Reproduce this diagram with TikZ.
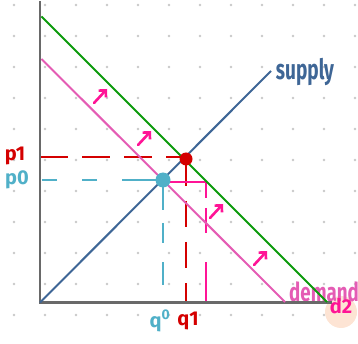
\documentclass[tikz,border=0pt]{standalone}
\usepackage{fontspec}
\setmainfont{Fira Sans}
\usetikzlibrary{arrows.meta}
\definecolor{axisgray}{RGB}{105,105,105}
\definecolor{supplyblue}{RGB}{62,102,150}
\definecolor{dgreen}{RGB}{12,155,12}
\definecolor{dpink}{RGB}{228,92,180}
\definecolor{mag}{RGB}{255,20,150}
\definecolor{dred}{RGB}{212,0,0}
\definecolor{tealb}{RGB}{80,176,200}
\definecolor{dotgray}{RGB}{200,200,200}
\definecolor{peach}{RGB}{253,228,212}
\begin{document}
\begin{tikzpicture}[x=1pt,y=-1pt,
  axisline/.style={draw=axisgray,line width=2.6pt},
  curve/.style={line width=2pt},
  guide/.style={line width=2pt},
  shiftarrow/.style={draw=mag,line width=2.6pt,line cap=round,-{Straight Barb[length=5pt,width=10pt]}},
  lbl/.style={inner sep=0pt,font=\fontsize{20}{20}\selectfont\bfseries},
  eqdot/.style={circle,inner sep=0pt,minimum size=#1},
]
\useasboundingbox (0,0) rectangle (358,344);
% dot grid
\foreach \i in {0,...,11}{\foreach \j in {0,...,10}{\fill[dotgray] ({14+31*\i},{5+31*\j}) circle (1.4pt);}}
% key points
\coordinate (Otop) at (40,1.5);
\coordinate (O) at (40,302.5);
\coordinate (Xend) at (332,302.5);
\coordinate (S0) at (40,302.5);
\coordinate (S1) at (271,71);
\coordinate (G0) at (41.5,16.5);
\coordinate (G1) at (327,302);
\coordinate (D0) at (41.5,59);
\coordinate (D1) at (285,302);
\coordinate (P1ax) at (40,157);
\coordinate (P1e) at (185,157);
\coordinate (Q1top) at (186,160);
\coordinate (Q1ax) at (186,302);
\coordinate (P0ax) at (40,180);
\coordinate (P0e) at (163,180);
\coordinate (Q0ax) at (163,302);
\coordinate (M0) at (165,182);
\coordinate (M1) at (206,182);
\coordinate (M2) at (206,302);
% labels behind lines
\node[circle,fill=peach,minimum size=32pt,inner sep=0pt] (d2bg) at (341,312) {};
\node[text=dpink,inner sep=0pt,anchor=base west] (dem) at (289,301) {\scalebox{0.72}[1]{\fontsize{26}{26}\selectfont\bfseries demand}};
% guide lines
\draw[guide,dred,dash pattern=on 28pt off 14pt] (P1ax) -- (P1e);
\draw[guide,dred,dash pattern=on 26pt off 15pt] (Q1top) -- (Q1ax);
\draw[guide,tealb,dash pattern=on 41pt off 25pt on 15pt off 25pt on 15pt off 25pt] (P0e) -- (P0ax);
\draw[guide,tealb,dash pattern=on 30pt off 13pt on 20pt off 19pt on 23pt off 50pt] (P0e) -- (Q0ax);
\draw[guide,mag] (M0) -- (M1);
\draw[guide,mag,dash pattern=on 16pt off 10pt on 25pt off 29pt on 45pt off 10pt] (M1) -- (M2);
% axes
\draw[axisline] (Otop) -- (O) -- (Xend);
% curves
\draw[curve,dpink] (D0) -- (D1);
\draw[curve,dgreen] (G0) -- (G1);
\draw[curve,supplyblue] (S0) -- (S1);
% equilibrium dots
\node[eqdot=13pt,fill=dred] (E1) at (186,159) {};
\node[eqdot=15pt,fill=tealb] (E0) at (163,180) {};
% shift arrows
\coordinate (A1s) at (94,103); \coordinate (A1e) at (107,89);
\coordinate (A2s) at (138,145); \coordinate (A2e) at (151,131);
\coordinate (A3s) at (210,218); \coordinate (A3e) at (223,204);
\coordinate (A4s) at (254,265); \coordinate (A4e) at (267,251);
\draw[shiftarrow] (A1s) -- (A1e);
\draw[shiftarrow] (A2s) -- (A2e);
\draw[shiftarrow] (A3s) -- (A3e);
\draw[shiftarrow] (A4s) -- (A4e);
% labels
\node[lbl,text=dred] (p1) at (15,156) {p1};
\node[lbl,text=tealb] (p0) at (17,180) {p0};
\node[lbl,text=tealb] (q0) at (160,321) {q\textsuperscript{0}};
\node[lbl,text=dred] (q1) at (188,321) {q1};
\node[lbl,text=mag] (d2) at (341,306) {d2};
\node[text=supplyblue,inner sep=0pt] (sup) at (305,72) {\scalebox{0.68}[1]{\fontsize{28}{28}\selectfont\bfseries supply}};
\end{tikzpicture}
\end{document}
